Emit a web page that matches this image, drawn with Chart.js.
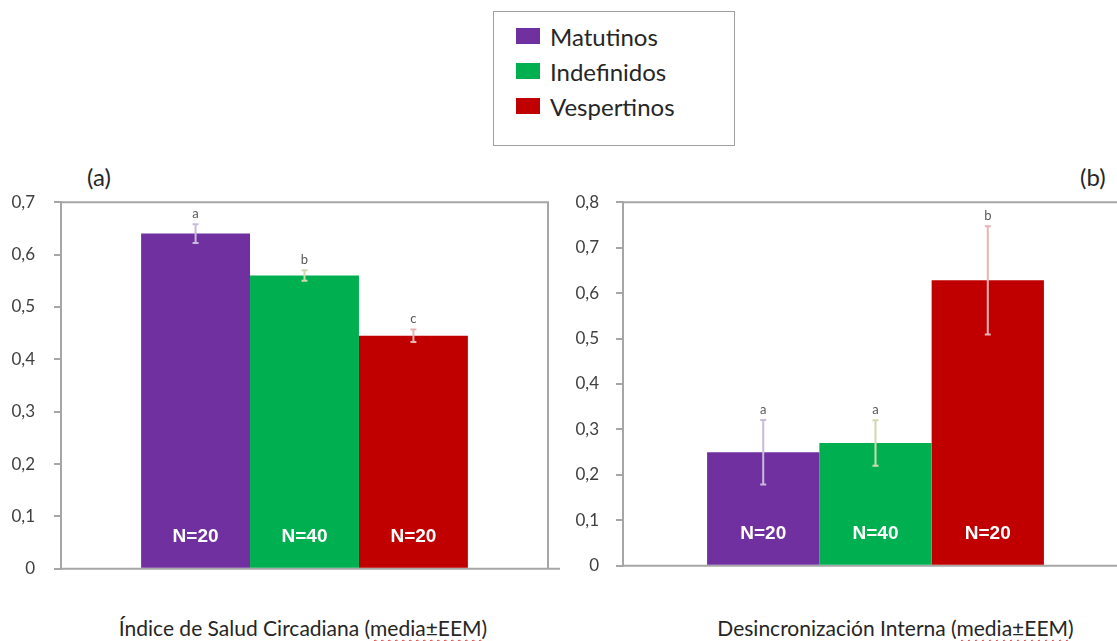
<!DOCTYPE html>
<html lang="es">
<head>
<meta charset="utf-8">
<title>Cronotipo</title>
<script src="https://cdn.jsdelivr.net/npm/chart.js@4.4.1/dist/chart.umd.min.js"></script>
<style>
  html, body { margin: 0; padding: 0; background: #fff; overflow: hidden; }
  #page { position: relative; width: 1117px; height: 641px; overflow: hidden; font-family: Lato, "Open Sans", sans-serif; color: #262626; }
  canvas { position: absolute; }
  #legend { position: absolute; left: 493px; top: 11px; width: 240px; height: 133px; border: 1.5px solid #a0a0a0; }
  .row { position: absolute; left: 22px; height: 24px; display: flex; align-items: center; font-size: 24px; }
  .sw { width: 24px; height: 16px; margin-right: 10px; }
  .panel { position: absolute; font-size: 24px; }
  .axtitle { position: absolute; top: 615px; font-size: 21px; white-space: nowrap; text-align: center; }
  .sp { text-decoration: underline wavy #e03030; text-decoration-thickness: 1px; text-underline-offset: 3px; }
</style>
</head>
<body>
<div id="page">
  <div id="legend"></div>
  <div class="panel" style="left:87px; top:162px;">(a)</div>
  <div class="panel" style="left:1080px; top:162px;">(b)</div>
  <canvas id="chartA" width="560" height="425" style="left:0; top:173px;"></canvas>
  <canvas id="chartB" width="580" height="418" style="left:560px; top:175px;"></canvas>
  <div class="axtitle" style="left:100px; width:406px;">Índice de Salud Circadiana (<span class="sp">media±EEM</span>)</div>
  <div class="axtitle" style="left:690px; width:411px;">Desincronización Interna (<span class="sp">media±EEM</span>)</div>
</div>
<script>
// grupos de cronotipo
var groups = ['Matutinos', 'Indefinidos', 'Vespertinos'];
var groupColors = ['#7030a0', '#00b050', '#c00000'];
var errColors = ['#c6bcd8', '#d3d8ae', '#e6b4b4'];
var groupN = ['N=20', 'N=40', 'N=20'];

// (a) indice de salud circadiana
var ishMeans = [0.640, 0.560, 0.445];
var ishErrors = [0.018, 0.010, 0.012];
var ishLetters = ['a', 'b', 'c'];

// (b) desincronizacion interna
var diMeans = [0.250, 0.270, 0.628];
var diErrors = [0.071, 0.050, 0.119];
var diLetters = ['a', 'a', 'b'];

var axisGray = '#a6a6a6';

// leyenda comun
(function () {
    var box = document.getElementById('legend');
    for (var i = 0; i < groups.length; i++) {
        var row = document.createElement('div');
        row.className = 'row';
        row.style.top = (12 + i * 35) + 'px';
        row.innerHTML = '<div class="sw" style="background:' + groupColors[i] + '"></div>' + groups[i];
        box.appendChild(row);
    }
})();

// marco del area, barras de error, letras y N
var decorations = {
    id: 'decorations',
    beforeDatasetsDraw: function (chart) {
        var a = chart.chartArea;
        var ctx = chart.ctx;
        ctx.save();
        ctx.strokeStyle = axisGray;
        ctx.lineWidth = 2;
        ctx.beginPath();
        ctx.moveTo(a.left, a.top);
        ctx.lineTo(a.right, a.top);
        if (a.right < chart.width) ctx.lineTo(a.right, a.bottom);
        ctx.moveTo(a.left, a.bottom);
        ctx.lineTo(chart.width, a.bottom);
        ctx.stroke();
        ctx.restore();
    },
    afterDatasetsDraw: function (chart, args, opts) {
        var ctx = chart.ctx;
        var y = chart.scales.y;
        ctx.save();
        for (var i = 0; i < chart.data.datasets.length; i++) {
            var bar = chart.getDatasetMeta(i).data[0];
            var m = chart.data.datasets[i].data[0];
            var e = opts.errors[i];
            var top = y.getPixelForValue(m + e);
            var bot = y.getPixelForValue(m - e);
            ctx.strokeStyle = errColors[i];
            ctx.lineWidth = 2;
            ctx.beginPath();
            ctx.moveTo(bar.x, top); ctx.lineTo(bar.x, bot);
            ctx.moveTo(bar.x - 3, top); ctx.lineTo(bar.x + 3, top);
            ctx.moveTo(bar.x - 3, bot); ctx.lineTo(bar.x + 3, bot);
            ctx.stroke();

            ctx.fillStyle = '#595959';
            ctx.font = '13px Lato, sans-serif';
            ctx.textAlign = 'center';
            ctx.textBaseline = 'bottom';
            ctx.fillText(opts.letters[i], bar.x, top - 4);

            ctx.fillStyle = '#ffffff';
            ctx.font = 'bold 19px "Liberation Sans", Arial, sans-serif';
            ctx.textBaseline = 'middle';
            ctx.fillText(groupN[i], bar.x, chart.chartArea.bottom - 32);
        }
        ctx.restore();
    }
};

function makeChart(id, means, errors, letters, yMax, axisWidth, pad) {
    var datasets = [];
    for (var i = 0; i < groups.length; i++) {
        datasets.push({
            label: groups[i],
            data: [means[i]],
            backgroundColor: groupColors[i],
            barPercentage: 1,
            categoryPercentage: pad.cat
        });
    }
    return new Chart(document.getElementById(id), {
        type: 'bar',
        data: { labels: [''], datasets: datasets },
        plugins: [decorations],
        options: {
            responsive: false,
            animation: false,
            layout: { padding: { top: 12, bottom: 12, right: pad.right, left: 0 } },
            plugins: {
                legend: { display: false },
                tooltip: { enabled: false },
                decorations: { errors: errors, letters: letters }
            },
            scales: {
                x: { display: false },
                y: {
                    min: 0,
                    max: yMax,
                    afterFit: function (scale) { scale.width = axisWidth; },
                    border: { display: true, color: axisGray, width: 2 },
                    grid: { drawOnChartArea: false, drawTicks: true, tickLength: 7, color: axisGray, lineWidth: 2 },
                    ticks: {
                        stepSize: 0.1,
                        padding: pad.ticks,
                        color: '#404040',
                        font: { family: 'Lato, sans-serif', size: 17 },
                        callback: function (v) { return v === 0 ? '0' : v.toFixed(1).replace('.', ','); }
                    }
                }
            }
        }
    });
}

makeChart('chartA', ishMeans, ishErrors, ishLetters, 0.7, 61, { right: 12, cat: 0.671, ticks: 19 });
makeChart('chartB', diMeans, diErrors, diLetters, 0.8, 63, { right: 12, cat: 0.667, ticks: 17 });
</script>
</body>
</html>
